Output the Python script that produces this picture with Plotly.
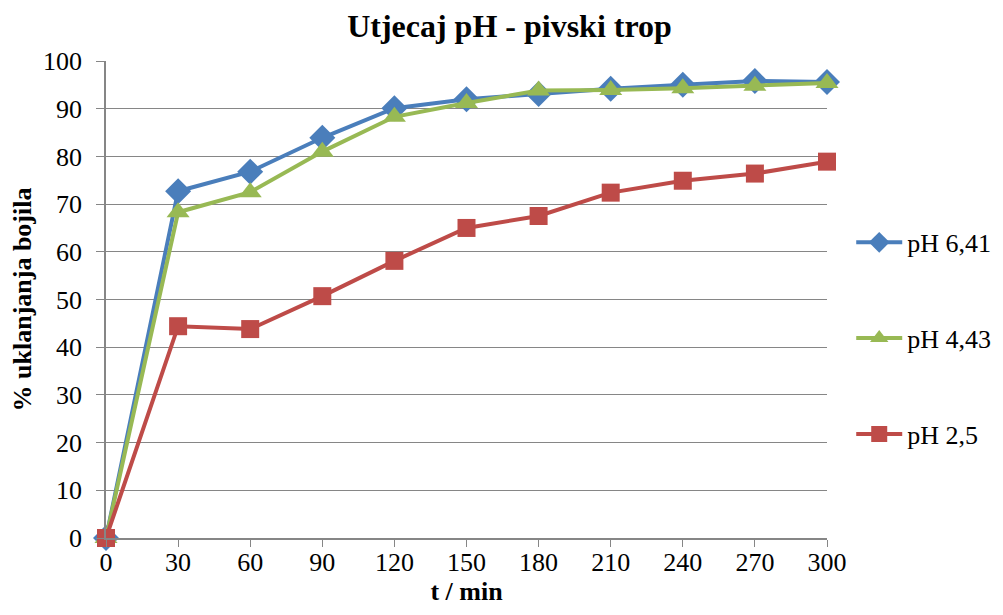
import plotly.graph_objects as go

t_min = [0, 30, 60, 90, 120, 150, 180, 210, 240, 270, 300]
ph_641 = [0, 72.7, 76.8, 83.9, 90.1, 92.0, 93.1, 94.2, 95.0, 95.8, 95.6]
ph_443 = [0, 68.3, 72.5, 81.0, 88.3, 91.2, 93.8, 93.9, 94.3, 94.8, 95.4]
ph_25 = [0, 44.4, 43.8, 50.7, 58.1, 65.0, 67.5, 72.4, 74.9, 76.4, 78.9]
series_names = ["pH 6,41", "pH 4,43", "pH 2,5"]
colors = ["#4A7EBB", "#98B954", "#BE4B48"]
symbols = ["diamond", "triangle-up", "square"]
sizes = [20, 20, 18]

fig = go.Figure()
for name, ys, c, s, sz in zip(series_names, [ph_641, ph_443, ph_25], colors, symbols, sizes):
    fig.add_trace(go.Scatter(
        x=t_min, y=ys, name=name, legendgroup=name,
        mode="lines+markers",
        line=dict(color=c, width=4),
        marker=dict(symbol=s, size=sz, color=c),
        cliponaxis=False,
    ))

font_family = "Times New Roman, Liberation Serif, serif"
tick_font = dict(family=font_family, size=26, color="black")
fig.update_layout(
    template="none",
    width=1003, height=615,
    margin=dict(l=98, r=184, t=53, b=85),
    paper_bgcolor="white", plot_bgcolor="white",
    font=dict(family=font_family, size=26, color="black"),
    title=dict(text="<b>Utjecaj pH - pivski trop</b>", x=0.5, xanchor="center",
               y=0.971, yanchor="middle", font=dict(size=32, family=font_family, color="black")),
    legend=dict(x=1.0336, y=0.669, xanchor="left", yanchor="top",
                tracegroupgap=59, font=tick_font, itemwidth=46),
    showlegend=True,
)
fig.update_xaxes(
    range=[0, 300], tickvals=t_min, ticktext=[str(v) for v in t_min],
    tickfont=tick_font, ticklabelstandoff=-7,
    showgrid=False, showline=True, linecolor="#868686", linewidth=1.5,
    ticks="outside", ticklen=7, tickcolor="#868686", tickwidth=1,
    title=dict(text="<b>t / min</b>", standoff=6, font=dict(size=26, family=font_family, color="black")),
    zeroline=False,
)
fig.update_yaxes(
    range=[0, 100], dtick=10,
    tickfont=tick_font, ticklabelstandoff=9,
    showgrid=True, gridcolor="#868686", gridwidth=1,
    showline=True, linecolor="#868686", linewidth=1.5,
    ticks="outside", ticklen=8, tickcolor="#868686", tickwidth=1,
    title=dict(text="<b>% uklanjanja bojila</b>", standoff=8, font=dict(size=26, family=font_family, color="black")),
    zeroline=False,
)
fig.write_html("out.html")
